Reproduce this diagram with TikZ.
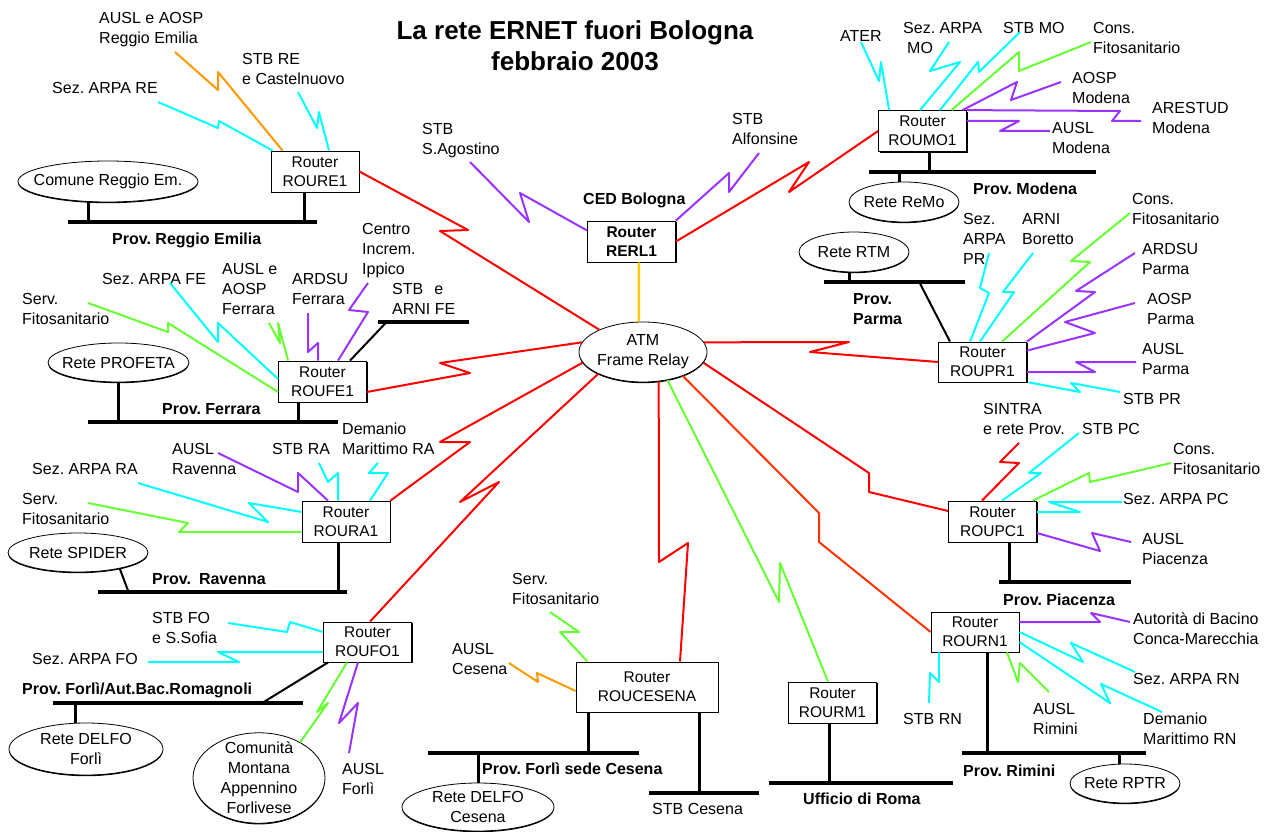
\documentclass[tikz,border=0pt]{standalone}
\usepackage{fontspec}
\setmainfont{Liberation Sans}
\usetikzlibrary{shapes.geometric, shadows}
\definecolor{linkcyan}{RGB}{0,255,255}
\definecolor{linkgreen}{RGB}{102,255,51}
\definecolor{linkpurple}{RGB}{153,51,255}
\definecolor{linkorange}{RGB}{255,153,0}
\definecolor{wanred}{RGB}{255,0,0}
\definecolor{wanorange}{RGB}{255,51,0}
\definecolor{feedgold}{RGB}{255,204,0}
\newcommand{\lanrow}[1]{\makebox[0pt]{#1}}
\tikzset{
  router/.style={
    draw, fill=white,
    line width=0.8pt,
    minimum width=88pt, minimum height=41pt,
    inner sep=0pt, align=center,
    font=\fontsize{15.5}{19}\selectfont,
    drop shadow={opacity=1, fill=black, shadow xshift=1.2pt, shadow yshift=-1.2pt}
  },
  lan/.style={
    ellipse, draw, fill=white,
    line width=0.8pt,
    inner sep=0pt, align=center,
    font=\fontsize{16}{20}\selectfont,
    drop shadow={opacity=1, fill=black, shadow xshift=0pt, shadow yshift=-1.2pt}
  },
  site/.style={
    inner sep=0pt, anchor=north west, align=left,
    font=\fontsize{16}{20}\selectfont
  },
  prov/.style={
    inner sep=0pt, anchor=north west, align=left,
    font=\bfseries\fontsize{16}{20}\selectfont
  },
  heading/.style={
    inner sep=0pt, anchor=north, align=center,
    font=\bfseries\fontsize{26}{31}\selectfont
  },
  busline/.style={line width=4.5pt},
  stubline/.style={line width=3pt},
  tieline/.style={line width=2pt},
  cyanlink/.style={draw=linkcyan, line width=2pt, line join=round},
  greenlink/.style={draw=linkgreen, line width=2pt, line join=round},
  purplelink/.style={draw=linkpurple, line width=2pt, line join=round},
  orangelink/.style={draw=linkorange, line width=2pt, line join=round},
  wanlink/.style={draw=wanred, line width=2pt, line join=round},
  rnlink/.style={draw=wanorange, line width=2pt, line join=round},
  goldlink/.style={draw=feedgold, line width=2.5pt}
}
\begin{document}
\frenchspacing
\begin{tikzpicture}[x=1pt, y=-1pt]
  \fill[white] (0,0) rectangle (1271,832);
  \useasboundingbox (0,0) rectangle (1271,832);

  % titolo
  \node[heading] (title) at (575,20) {La rete ERNET fuori Bologna\\febbraio 2003};

  % router
  \node[router] (roure1) at (315,171.5) {Router\\ROURE1};
  \node[router, font=\bfseries\fontsize{15.5}{19}\selectfont] (rerl1) at (631.5,241.5) {Router\\RERL1};
  \node[router] (roumo1) at (922.5,131) {Router\\ROUMO1};
  \node[router] (roufe1) at (322.5,381.5) {Router\\ROUFE1};
  \node[router, minimum height=40pt] (roupr1) at (982.5,362) {Router\\ROUPR1};
  \node[router] (roura1) at (346,521.5) {Router\\ROURA1};
  \node[router] (roupc1) at (992.5,521.5) {Router\\ROUPC1};
  \node[router, minimum height=40pt] (roufo1) at (367.5,642) {Router\\ROUFO1};
  \node[router, minimum width=142pt, minimum height=50pt] (roucesena) at (647,687) {Router\\ROUCESENA};
  \node[router] (rourm1) at (832.5,702.5) {Router\\ROURM1};
  \node[router, minimum height=40pt] (rourn1) at (975,632) {Router\\ROURN1};

  % reti locali
  \node[lan, minimum width=180pt, minimum height=41pt] (comune) at (108,181.5) {\lanrow{Comune Reggio Em.}};
  \node[lan, minimum width=128pt, minimum height=60pt] (atm) at (643,352) {\lanrow{ATM}\\\lanrow{Frame Relay}};
  \node[lan, minimum width=110pt, minimum height=40pt] (remo) at (904,202) {\lanrow{Rete ReMo}};
  \node[lan, minimum width=110pt, minimum height=40pt] (rtm) at (854,252) {\lanrow{Rete RTM}};
  \node[lan, minimum width=141pt, minimum height=39pt] (profeta) at (118.5,362.5) {\lanrow{Rete PROFETA}};
  \node[lan, minimum width=140pt, minimum height=39pt] (spider) at (78,552.5) {\lanrow{Rete SPIDER}};
  \node[lan, minimum width=154pt, minimum height=52pt] (delfofo) at (86,749) {\lanrow{Rete DELFO}\\\lanrow{Forlì}};
  \node[lan, minimum width=132pt, minimum height=90pt, inner ysep=-4pt] (comunita) at (259,778)
    {\lanrow{Comunità}\\\lanrow{Montana}\\\lanrow{Appennino}\\\lanrow{Forlivese}};
  \node[lan, minimum width=152pt, minimum height=48pt] (delfoce) at (478,807) {\lanrow{Rete DELFO}\\\lanrow{Cesena}};
  \node[lan, minimum width=110pt, minimum height=39pt] (rptr) at (1125,783.5) {\lanrow{Rete RPTR}};

  % sedi collegate
  \node[site] (l-ausl-re) at (99,12) {AUSL e AOSP\\Reggio Emilia};
  \node[site] (l-stb-re) at (242,53) {STB RE\\e Castelnuovo};
  \node[site] (l-arpa-re) at (52,82) {Sez. ARPA RE};
  \node[site] (l-stb-sag) at (422,123) {STB\\S.Agostino};
  \node[site] (l-stb-alf) at (732,113) {STB\\Alfonsine};
  \node[site] (l-ater) at (840,30) {ATER};
  \node[site] (l-arpa-mo) at (903,22) {Sez. ARPA\\\hspace*{4pt}MO};
  \node[site] (l-stb-mo) at (1003,22) {STB MO};
  \node[site] (l-cons-mo) at (1093,22) {Cons.\\Fitosanitario};
  \node[site] (l-aosp-mo) at (1072,72) {AOSP\\Modena};
  \node[site] (l-arestud) at (1152,102) {ARESTUD\\Modena};
  \node[site] (l-ausl-mo) at (1052,122) {AUSL\\Modena};
  \node[site] (l-arpa-pr) at (963,213) {Sez.\\ARPA\\PR};
  \node[site] (l-arni) at (1022,213) {ARNI\\Boretto};
  \node[site] (l-cons-pr) at (1132,193) {Cons.\\Fitosanitario};
  \node[site] (l-ardsu-pr) at (1142,243) {ARDSU\\Parma};
  \node[site] (l-aosp-pr) at (1147,293) {AOSP\\Parma};
  \node[site] (l-ausl-pr) at (1142,343) {AUSL\\Parma};
  \node[site] (l-stb-pr) at (1123,393) {STB PR};
  \node[site] (l-sintra) at (983,403) {SINTRA\\e rete Prov.};
  \node[site] (l-stb-pc) at (1082,423) {STB PC};
  \node[site] (l-cons-pc) at (1173,443) {Cons.\\Fitosanitario};
  \node[site] (l-arpa-pc) at (1123,493) {Sez. ARPA PC};
  \node[site] (l-ausl-pc) at (1142,533) {AUSL\\Piacenza};
  \node[site] (l-serv-fe) at (22,293) {Serv.\\Fitosanitario};
  \node[site] (l-arpa-fe) at (102,273) {Sez. ARPA FE};
  \node[site] (l-ausl-fe) at (222,263) {AUSL e\\AOSP\\Ferrara};
  \node[site] (l-ardsu-fe) at (292,273) {ARDSU\\Ferrara};
  \node[site] (l-ippico) at (362,223) {Centro\\Increm.\\Ippico};
  \node[site] (l-stb-fe) at (392,283) {STB\hspace{11pt}e\\ARNI FE};
  \node[site] (l-dem-ra) at (342,423) {Demanio\\Marittimo RA};
  \node[site] (l-stb-ra) at (272,443) {STB RA};
  \node[site] (l-ausl-ra) at (172,443) {AUSL\\Ravenna};
  \node[site] (l-arpa-ra) at (32,463) {Sez. ARPA RA};
  \node[site] (l-serv-ra) at (22,493) {Serv.\\Fitosanitario};
  \node[site] (l-stb-fo) at (152,612) {STB FO\\e S.Sofia};
  \node[site] (l-arpa-fo) at (32,653) {Sez. ARPA FO};
  \node[site] (l-ausl-fo) at (342,763) {AUSL\\Forlì};
  \node[site] (l-serv-ce) at (512,573) {Serv.\\Fitosanitario};
  \node[site] (l-ausl-ce) at (452,643) {AUSL\\Cesena};
  \node[site] (l-stb-ce) at (652,803) {STB Cesena};
  \node[site] (l-autorita) at (1133,613) {Autorità di Bacino\\Conca-Marecchia};
  \node[site] (l-arpa-rn) at (1133,673) {Sez. ARPA RN};
  \node[site] (l-dem-rn) at (1143,713) {Demanio\\Marittimo RN};
  \node[site] (l-ausl-rn) at (1033,703) {AUSL\\Rimini};
  \node[site] (l-stb-rn) at (903,713) {STB RN};

  % province
  \node[prov] (ced) at (583,193) {CED Bologna};
  \node[prov] (p-re) at (112,233) {Prov. Reggio Emilia};
  \node[prov] (p-mo) at (973,183) {Prov. Modena};
  \node[prov] (p-pr) at (853,293) {Prov.\\Parma};
  \node[prov] (p-fe) at (162,403) {Prov. Ferrara};
  \node[prov] (p-ra) at (152,573) {Prov.\hspace{8pt}Ravenna};
  \node[prov] (p-pc) at (1003,594) {Prov. Piacenza};
  \node[prov] (p-fo) at (22,683) {Prov. Forlì/Aut.Bac.Romagnoli};
  \node[prov] (p-ce) at (482,763) {Prov. Forlì sede Cesena};
  \node[prov] (p-rm) at (803,793) {Ufficio di Roma};
  \node[prov] (p-rn) at (963,765) {Prov. Rimini};

  % dorsali provinciali
  \draw[busline] (68,222) -- (317,222);
  \draw[busline] (869,172) -- (1096,172);
  \draw[busline] (824,282) -- (965,282);
  \draw[busline] (88,422) -- (338,422);
  \draw[busline] (378,322) -- (469,322);
  \draw[busline] (98,592) -- (347,592);
  \draw[busline] (999,582) -- (1131,582);
  \draw[busline] (53,703) -- (303,703);
  \draw[busline] (428,753) -- (639,753);
  \draw[busline] (649,793) -- (759,793);
  \draw[busline] (769,783) -- (953,783);
  \draw[busline] (962,753) -- (1146,753);

  % discese verso le dorsali
  \draw[stubline] ([xshift=-11pt]roure1.south) -- ++(0,30);
  \draw[stubline] ([xshift=-20pt]comune.south) -- ++(0,20);
  \draw[stubline] ([xshift=6.5pt]roumo1.south) -- ++(0,20);
  \draw[stubline] ([xshift=-5pt]remo.north) -- ++(0,-10);
  \draw[stubline] ([xshift=-5pt]rtm.south) -- ++(0,10);
  \draw[stubline] (profeta.south) -- ++(0,40);
  \draw[stubline] ([xshift=-24.5pt]roufe1.south) -- ++(0,20);
  \draw[stubline] ([xshift=-8pt]roura1.south) -- ++(0,50);
  \draw[stubline] ([xshift=16.5pt]roupc1.south) -- ++(0,40);
  \draw[stubline] ([xshift=-11pt]delfofo.north) -- ++(0,-20);
  \draw[stubline] ([xshift=-59pt]roucesena.south) -- ++(0,41);
  \draw[stubline] (delfoce.north) -- ++(0,-30);
  \draw[stubline] ([xshift=52pt]roucesena.south) -- ++(0,81);
  \draw[stubline] ([xshift=-3.5pt]rourm1.south) -- ++(0,60);
  \draw[stubline] ([xshift=12pt]rourn1.south) -- ++(0,101);
  \draw[stubline] ([xshift=-6pt]rptr.north) -- ++(0,-11);
  \draw[tieline] ([xshift=-32.5pt]roupr1.north) -- ++(-31,-60);
  \draw[tieline] ([xshift=27.5pt]roufe1.north) -- ++(37,-39);
  \draw[tieline] (spider.-21) -- ++(9,24);
  \draw[tieline] ([xshift=5pt]roufo1.south west) -- ++(-65,40);

  % CED Bologna
  \draw[goldlink] ([xshift=7.5pt]rerl1.south) -- (atm.98);
  \draw[purplelink] ([yshift=11pt]rerl1.west) -- (520,193) -- (529,222) -- (470,162) coordinate (sag-end);
  \draw[purplelink] (rerl1.north east) -- (729,173) -- (729,192) -- (759,153) coordinate (alf-end);
  \draw[wanlink] (rerl1.east) -- (809,162) -- (789,192) -- (roumo1.west);

  % Reggio Emilia
  \draw[orangelink] ([xshift=12pt]roure1.north west) -- (218,72) -- (218,90) -- (175,52) coordinate (ausl-re-end);
  \draw[cyanlink] ([xshift=2pt]roure1.north west) -- (219,121) -- (218,128) -- (158,102) coordinate (arpa-re-end);
  \draw[cyanlink] ([xshift=14pt]roure1.north) -- (319,112) -- (317,128) -- (298,92) coordinate (stb-re-end);
  \draw[wanlink] (roure1.east) -- (468,230) -- (440,231) -- (atm.153);

  % Modena
  \draw[cyanlink] ([xshift=11pt]roumo1.north west) -- (881,62) -- (879,81) -- (861,42) coordinate (ater-end);
  \draw[cyanlink] ([xshift=-2.5pt]roumo1.north) -- (960,62) -- (930,71) -- (949,42) coordinate (arpa-mo-end);
  \draw[cyanlink] ([xshift=17.5pt]roumo1.north) -- (978,62) -- (979,72) -- (1020,32) coordinate (stb-mo-end);
  \draw[greenlink] ([xshift=29pt]roumo1.north) -- (1019,52) -- (1019,71) -- (1091,42) coordinate (cons-mo-end);
  \draw[purplelink] ([xshift=40pt]roumo1.north) -- (1017,82) -- (1011,100) -- (1061,82) coordinate (aosp-mo-end);
  \draw[purplelink] (roumo1.north east) -- (1120,111) -- (1112,121) -- (1141,121) coordinate (arestud-end);
  \draw[purplelink] ([yshift=10pt]roumo1.east) -- (1019,121) -- (1000,131) -- (1050,131) coordinate (ausl-mo-end);

  % Parma
  \draw[cyanlink] ([xshift=-12.5pt]roupr1.north) -- (989,293) -- (980,288) -- (989,253) coordinate (arpa-pr-end);
  \draw[cyanlink] ([xshift=-2.5pt]roupr1.north) -- (1014,292) -- (1003,292) -- (1033,253) coordinate (arni-end);
  \draw[greenlink] ([xshift=19.5pt]roupr1.north) -- (1090,262) -- (1071,261) -- (1130,213) coordinate (cons-pr-end);
  \draw[purplelink] (roupr1.north east) -- (1095,292) -- (1076,291) -- (1135,253) coordinate (ardsu-pr-end);
  \draw[purplelink] ([yshift=-9pt]roupr1.north east) -- (1095,333) -- (1065,322) -- (1135,303) coordinate (aosp-pr-end);
  \draw[purplelink] ([yshift=-10pt]roupr1.east) -- (1095,372) -- (1076,362) -- (1136,362) coordinate (ausl-pr-end);
  \draw[cyanlink] ([xshift=2pt]roupr1.south east) -- (1080,392) -- (1071,383) -- (1120,392) coordinate (stb-pr-end);
  \draw[wanlink] (atm.9) -- (849,342) -- (810,352) -- (roupr1.west);

  % Piacenza
  \draw[wanlink] ([xshift=-10.5pt]roupc1.north) -- (1019,463) -- (1000,462) -- (1019,443) coordinate (sintra-end);
  \draw[cyanlink] ([xshift=9.5pt]roupc1.north) -- (1041,473) -- (1029,473) -- (1079,433) coordinate (stb-pc-end);
  \draw[greenlink] ([xshift=-4pt]roupc1.north east) -- (1089,473) -- (1090,482) -- (1171,463) coordinate (cons-pc-end);
  \draw[cyanlink] ([yshift=9.5pt]roupc1.east) -- (1080,512) -- (1049,502) -- (1122,502) coordinate (arpa-pc-end);
  \draw[purplelink] ([yshift=-11.5pt]roupc1.east) -- (1100,551) -- (1092,533) -- (1131,542) coordinate (ausl-pc-end);
  \draw[wanlink] (atm.-10) -- (869,473) -- (869,492) -- ([yshift=10.5pt]roupc1.west);

  % Ferrara
  \draw[greenlink] ([yshift=-10.5pt]roufe1.west) -- (168,323) -- (168,332) -- (88,303) coordinate (serv-fe-end);
  \draw[cyanlink] ([yshift=2.5pt]roufe1.west) -- (218,323) -- (218,342) -- (170,283) coordinate (arpa-fe-end);
  \draw[greenlink] ([xshift=10pt]roufe1.north west) -- (278,323) -- (280,343) -- (269,323) coordinate (ausl-fe-end);
  \draw[purplelink] ([xshift=-4.5pt]roufe1.north) -- (318,343) -- (308,352) -- (308,313) coordinate (ardsu-fe-end);
  \draw[purplelink] ([xshift=15.5pt]roufe1.north) -- (368,312) -- (349,310) -- (368,283) coordinate (ippico-end);
  \draw[wanlink] ([yshift=-10.5pt]roufe1.east) -- (470,373) -- (440,363) -- (atm.171);

  % Ravenna
  \draw[purplelink] ([xshift=-18pt]roura1.north) -- (298,473) -- (298,492) -- (218,453) coordinate (ausl-ra-end);
  \draw[cyanlink] ([xshift=-8pt]roura1.north) -- (338,473) -- (328,482) -- (319,463) coordinate (stb-ra-end);
  \draw[cyanlink] ([xshift=24pt]roura1.north) -- (388,473) -- (369,473) -- (378,463) coordinate (dem-ra-end);
  \draw[cyanlink] ([yshift=9.5pt]roura1.west) -- (249,503) -- (268,522) -- (138,483) coordinate (arpa-ra-end);
  \draw[greenlink] ([yshift=-10.5pt]roura1.west) -- (179,532) -- (188,523) -- (88,503) coordinate (serv-ra-end);
  \draw[wanlink] (roura1.north east) -- (470,442) -- (440,442) -- (atm.190);

  % Forli
  \draw[cyanlink] ([yshift=10pt]roufo1.west) -- (290,622) -- (287,632) -- (228,623) coordinate (stb-fo-end);
  \draw[cyanlink] ([yshift=-10pt]roufo1.west) -- (218,652) -- (239,662) -- (148,662) coordinate (arpa-fo-end);
  \draw[greenlink] ([xshift=-20.5pt]roufo1.south) -- (317,712) -- (328,703) -- (comunita.41);
  \draw[purplelink] ([xshift=-9.5pt]roufo1.south) -- (339,723) -- (358,703) -- (349,753) coordinate (ausl-fo-end);
  \draw[wanlink] (atm.206) -- (460,502) -- (499,482) -- ([xshift=2.5pt]roufo1.north);

  % Cesena
  \draw[greenlink] ([xshift=12pt]roucesena.north west) -- (560,632) -- (579,632) -- (550,612) coordinate (serv-ce-end);
  \draw[orangelink] ([yshift=-4pt]roucesena.west) -- (537,673) -- (538,682) -- (509,663) coordinate (ausl-ce-end);
  \draw[wanlink] (atm.-62) -- (659,562) -- (688,543) -- ([xshift=33pt]roucesena.north);

  % Roma
  \draw[greenlink] (atm.-49) -- (779,602) -- (780,563) -- ([xshift=-4.5pt]rourm1.north);

  % Rimini
  \draw[rnlink] (atm.-31) -- (819,513) -- (819,542) -- (rourn1.west);
  \draw[purplelink] ([yshift=10pt]rourn1.east) -- (1100,622) -- (1091,613) -- (1130,622) coordinate (autorita-end);
  \draw[cyanlink] (rourn1.east) -- (1083,662) -- (1071,643) -- (1135,672) coordinate (arpa-rn-end);
  \draw[cyanlink] ([yshift=-10pt]rourn1.east) -- (1110,703) -- (1101,684) -- (1162,712) coordinate (dem-rn-end);
  \draw[greenlink] ([xshift=32pt]rourn1.south) -- (1018,682) -- (1020,663) -- (1049,692) coordinate (ausl-rn-end);
  \draw[cyanlink] ([xshift=-36pt]rourn1.south) -- (939,682) -- (930,673) -- (929,703) coordinate (stb-rn-end);

\end{tikzpicture}
\end{document}
